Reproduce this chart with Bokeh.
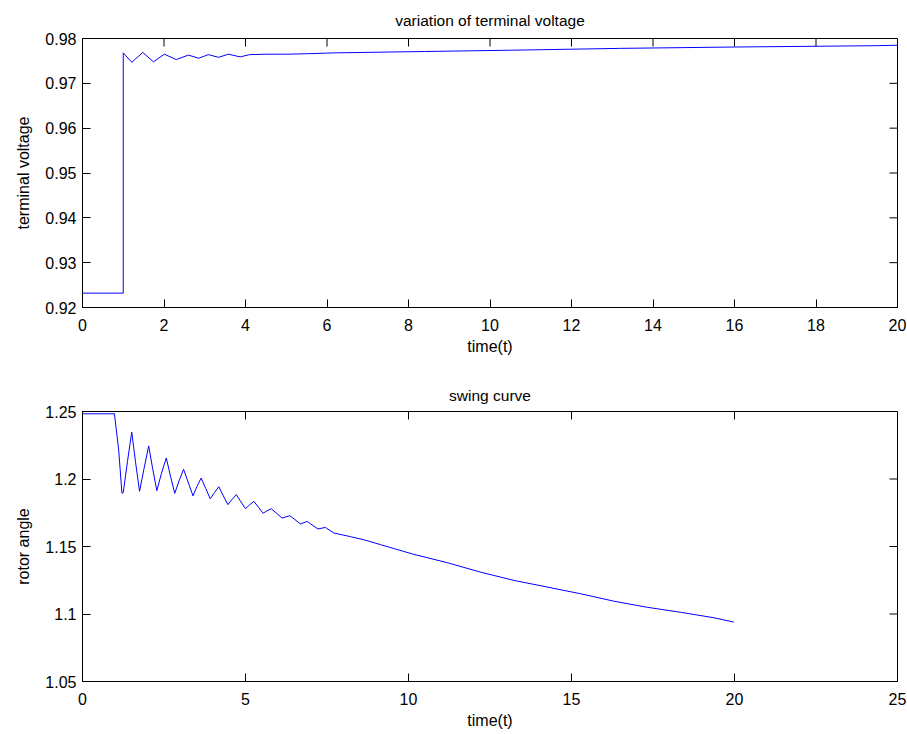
import math

from bokeh.plotting import figure
from bokeh.layouts import column
from bokeh.models import Range1d, FixedTicker
from bokeh.embed import file_html
from bokeh.resources import INLINE

# Terminal voltage after the disturbance at t = 1 s
volt_t = [0.0, 1.0, 1.0, 1.21, 1.48, 1.74, 2.01, 2.30, 2.60, 2.85, 3.09, 3.34,
          3.58, 3.87, 4.1, 4.5, 5.0, 5.5, 6.2, 8.4, 10.6, 13.2, 16.0, 19.5, 20.0]
volt_v = [0.9232, 0.9232, 0.9768, 0.9747, 0.9769, 0.9748, 0.9765, 0.9753, 0.9763,
          0.9756, 0.9764, 0.9758, 0.9765, 0.9759, 0.9764, 0.9765, 0.9765, 0.9766,
          0.9768, 0.9771, 0.9774, 0.9778, 0.9781, 0.9784, 0.9785]

# Rotor angle (swing curve)
swing_t = [0.0, 0.98, 1.03, 1.11, 1.21, 1.25, 1.38, 1.51, 1.63, 1.75, 1.89, 2.03,
           2.15, 2.28, 2.42, 2.57, 2.70, 2.83, 2.96, 3.10, 3.25, 3.39, 3.51, 3.64,
           3.78, 3.92, 4.05, 4.18, 4.32, 4.46, 4.59, 4.72, 4.86, 5.0, 5.13, 5.26,
           5.40, 5.54, 5.66, 5.79, 6.12, 6.36, 6.69, 6.89, 7.22, 7.45, 7.71, 8.22,
           8.63, 9.14, 10.16, 11.19, 12.21, 13.23, 14.25, 15.28, 16.3, 17.32,
           18.34, 19.37, 19.98]
swing_v = [1.2483, 1.2483, 1.2380, 1.2215, 1.1894, 1.1900, 1.2130, 1.2347, 1.2120,
           1.1909, 1.2080, 1.2245, 1.2080, 1.1914, 1.2040, 1.2156, 1.2020, 1.1894,
           1.1985, 1.2072, 1.1970, 1.1875, 1.1945, 1.2007, 1.1930, 1.1853, 1.1900,
           1.1943, 1.1875, 1.1810, 1.1850, 1.1884, 1.1830, 1.1780, 1.1810, 1.1834,
           1.1790, 1.1746, 1.1765, 1.1780, 1.1711, 1.1728, 1.1667, 1.1686, 1.1630,
           1.1641, 1.1600, 1.1573, 1.1550, 1.1514, 1.1442, 1.1380, 1.1310, 1.1249,
           1.1200, 1.1150, 1.1095, 1.1050, 1.1013, 1.0972, 1.0940]

# Tick positions and labels
top_xticks = [0, 2, 4, 6, 8, 10, 12, 14, 16, 18, 20]
top_yticks = [0.92, 0.93, 0.94, 0.95, 0.96, 0.97, 0.98]
top_ylabels = ["0.92", "0.93", "0.94", "0.95", "0.96", "0.97", "0.98"]
bot_xticks = [0, 5, 10, 15, 20, 25]
bot_yticks = [1.05, 1.1, 1.15, 1.2, 1.25]
bot_ylabels = ["1.05", "1.1", "1.15", "1.2", "1.25"]

FONT = "Liberation Sans"
FS = "16px"
LINE = "#0000ff"
TICK_LEN = 8


def style_axis(ax, ticks, labels=None):
    ax.ticker = FixedTicker(ticks=ticks)
    if labels is not None:
        ax.major_label_overrides = {t: s for t, s in zip(ticks, labels)}
    ax.major_tick_in = TICK_LEN
    ax.major_tick_out = 0
    ax.minor_tick_line_color = None
    ax.axis_line_color = "black"
    ax.major_tick_line_color = "black"
    ax.major_label_text_font = FONT
    ax.major_label_text_font_size = FS
    ax.major_label_text_color = "black"
    ax.axis_label_text_font = FONT
    ax.axis_label_text_font_style = "normal"
    ax.axis_label_text_font_size = FS
    ax.axis_label_text_color = "black"


def make_panel(title, height, xr, yr, xt, yt, ylabels, xlabel, ylabel,
               b_top, b_bottom, title_standoff):
    p = figure(width=907, height=height, output_backend="svg",
               toolbar_location=None, x_range=Range1d(*xr), y_range=Range1d(*yr),
               min_border_left=82, min_border_right=10,
               min_border_top=b_top, min_border_bottom=b_bottom)
    p.title.text = title
    p.title.align = "center"
    p.title.text_font = FONT
    p.title.text_font_size = "15.5px"
    p.title.text_font_style = "normal"
    p.title.text_color = "black"
    p.title.standoff = title_standoff
    p.grid.visible = False
    p.outline_line_color = "black"
    p.outline_line_alpha = 1.0
    p.background_fill_color = "white"
    p.border_fill_color = "white"

    style_axis(p.xaxis[0], xt)
    p.xaxis[0].axis_label = xlabel
    p.xaxis[0].major_label_standoff = 11
    p.xaxis[0].axis_label_standoff = 4
    style_axis(p.yaxis[0], yt, ylabels)
    p.yaxis[0].axis_label = ylabel
    p.yaxis[0].major_label_standoff = 6
    p.yaxis[0].axis_label_standoff = 10

    # inward ticks along the top and right edges of the box
    p.ray(x=xt, y=[yr[1]] * len(xt), length=TICK_LEN, length_units="screen",
          angle=-math.pi / 2, line_color="black", line_width=1)
    p.ray(x=[xr[1]] * len(yt), y=yt, length=TICK_LEN, length_units="screen",
          angle=math.pi, line_color="black", line_width=1)
    return p


p1 = make_panel("variation of terminal voltage", 370, (0, 20), (0.92, 0.98),
                top_xticks, top_yticks, top_ylabels, "time(t)", "terminal voltage",
                37, 63, 19)
p1.line(volt_t, volt_v, line_color=LINE, line_width=1)

p2 = make_panel("swing curve", 364, (0, 25), (1.05, 1.25),
                bot_xticks, bot_yticks, bot_ylabels, "time(t)", "rotor angle",
                41, 53, 16)
p2.line(swing_t, swing_v, line_color=LINE, line_width=1)

layout = column(p1, p2, spacing=0)
open("out.html", "w").write(file_html(layout, INLINE))
